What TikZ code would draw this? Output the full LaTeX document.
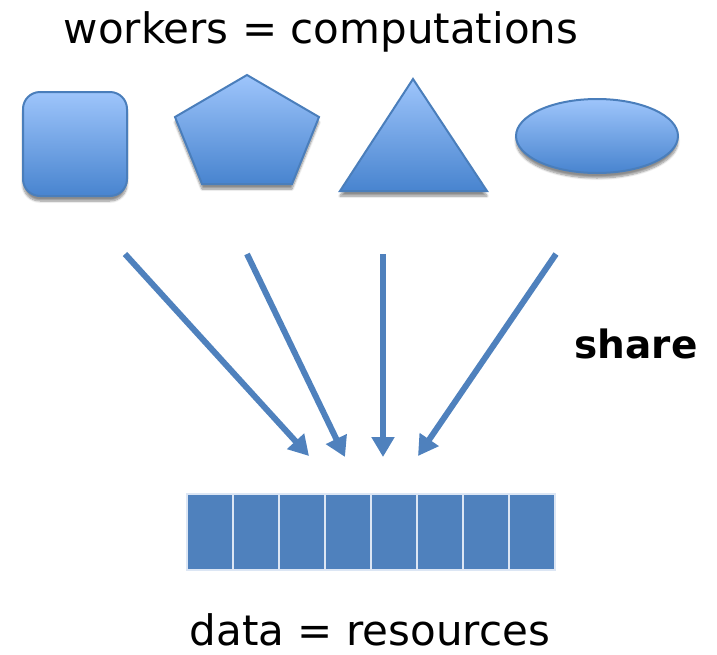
\documentclass[tikz,border=0pt]{standalone}
\usepackage{fontspec}
\setmainfont{DejaVu Sans}
\usetikzlibrary{arrows.meta,shadows.blur}

\definecolor{shapetop}{HTML}{9EC5FB}
\definecolor{shapebot}{HTML}{4884CF}
\definecolor{shapeedge}{HTML}{4A7EBB}
\definecolor{arrowblue}{HTML}{4F81BD}
\definecolor{cellblue}{HTML}{4F81BD}
\definecolor{celledge}{HTML}{DCE6F4}

\tikzset{
  worker/.style={draw=shapeedge, line width=2pt, top color=shapetop, bottom color=shapebot,
    blur shadow={shadow xshift=0pt, shadow yshift=-5pt, shadow blur steps=8, shadow opacity=45}},
  share arrow/.style={draw=arrowblue, line width=6pt, -{Triangle[length=20pt,width=22pt]}},
  cell/.style={draw=celledge, line width=2.5pt, fill=cellblue, minimum width=46pt,
    minimum height=76pt, inner sep=0pt, outer sep=0pt},
  label text/.style={font=\fontsize{42}{50}\selectfont, inner sep=0pt, anchor=base},
}

\begin{document}
\begin{tikzpicture}[x=1pt, y=-1pt]
  \useasboundingbox (0,0) rectangle (717,654);

  % headings
  \node[label text] (top) at (321,43) {workers = computations};
  \node[label text] (bottom) at (370,645) {data = resources};
  \node[label text, font=\fontsize{39}{47}\selectfont\bfseries] (share) at (636,358) {share};

  % the four workers
  \path[worker, rounded corners=17pt] (23,92) rectangle (127,196);
  \path[worker] (247,75) -- (319,117) -- (292,184) -- (202,184) -- (175,117) -- cycle;
  \path[worker] (413,79) -- (487,191) -- (340,191) -- cycle;
  \path[worker] (597,136) ellipse [x radius=81, y radius=37];

  % shared data cells
  \foreach \i in {1,...,8} {
    \node[cell] (c\i) at ({187+46*(\i-0.5)},532) {};
  }

  % arrows from the workers into the data
  \coordinate (s1) at (125,254);
  \coordinate (s2) at (247,254);
  \coordinate (s3) at (383,254);
  \coordinate (s4) at (556,254);
  \coordinate (t1) at (309,456);
  \coordinate (t2) at (345,457);
  \coordinate (t3) at (383,457);
  \coordinate (t4) at (418,456);
  \foreach \i in {1,...,4} {
    \draw[share arrow] (s\i) -- (t\i);
  }
\end{tikzpicture}
\end{document}
